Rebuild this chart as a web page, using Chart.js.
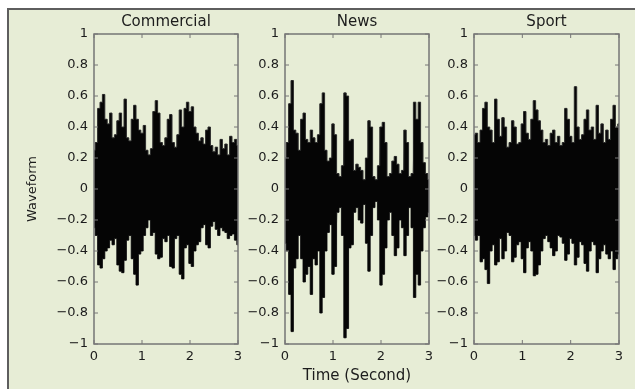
<!DOCTYPE html>
<html>
<head>
<meta charset="utf-8">
<script src="https://cdn.jsdelivr.net/npm/chart.js@4.4.1/dist/chart.umd.min.js"></script>
<style>
  body { margin: 0; background: #fff; width: 635px; height: 389px; overflow: hidden; position: relative; }
  #frame { position: absolute; left: 7px; top: 8px; width: 640px; height: 400px; border: 2px solid #5e5e5e; background: #e7edd6; }
  canvas { position: absolute; left: 0; top: 0; }
</style>
</head>
<body>
<div id="frame"></div>
<canvas id="c0" width="635" height="389"></canvas>
<canvas id="c1" width="635" height="389"></canvas>
<canvas id="c2" width="635" height="389"></canvas>
<script>
// time axis (seconds), one sample every 0.05 s
const time = [
  0, 0.05, 0.1, 0.15, 0.2, 0.25, 0.3, 0.35, 0.4, 0.45,
  0.5, 0.55, 0.6, 0.65, 0.7, 0.75, 0.8, 0.85, 0.9, 0.95,
  1, 1.05, 1.1, 1.15, 1.2, 1.25, 1.3, 1.35, 1.4, 1.45,
  1.5, 1.55, 1.6, 1.65, 1.7, 1.75, 1.8, 1.85, 1.9, 1.95,
  2, 2.05, 2.1, 2.15, 2.2, 2.25, 2.3, 2.35, 2.4, 2.45,
  2.5, 2.55, 2.6, 2.65, 2.7, 2.75, 2.8, 2.85, 2.9, 2.95,
  3
];

// waveform envelopes (peak above / below zero)
const commercialUpper = [
  0.25, 0.30, 0.52, 0.56, 0.61, 0.45, 0.42, 0.49, 0.33, 0.35,
  0.44, 0.49, 0.40, 0.58, 0.33, 0.31, 0.45, 0.54, 0.45, 0.38,
  0.36, 0.41, 0.25, 0.22, 0.26, 0.50, 0.57, 0.49, 0.30, 0.28,
  0.33, 0.45, 0.48, 0.30, 0.27, 0.35, 0.51, 0.40, 0.52, 0.56,
  0.50, 0.53, 0.40, 0.36, 0.31, 0.33, 0.29, 0.38, 0.40, 0.28,
  0.24, 0.27, 0.22, 0.32, 0.26, 0.29, 0.22, 0.34, 0.30, 0.32,
  0.28
];
const commercialLower = [
  -0.25, -0.30, -0.49, -0.51, -0.45, -0.40, -0.38, -0.33, -0.36, -0.32,
  -0.49, -0.53, -0.54, -0.46, -0.33, -0.30, -0.45, -0.55, -0.62, -0.42,
  -0.40, -0.30, -0.25, -0.20, -0.30, -0.28, -0.42, -0.45, -0.44, -0.32,
  -0.34, -0.30, -0.50, -0.51, -0.32, -0.30, -0.55, -0.58, -0.38, -0.36,
  -0.48, -0.50, -0.40, -0.36, -0.34, -0.25, -0.23, -0.36, -0.38, -0.24,
  -0.21, -0.26, -0.30, -0.25, -0.27, -0.28, -0.32, -0.30, -0.29, -0.33,
  -0.36
];
const newsUpper = [
  0.20, 0.30, 0.55, 0.70, 0.38, 0.36, 0.25, 0.45, 0.49, 0.32,
  0.30, 0.38, 0.33, 0.30, 0.35, 0.55, 0.62, 0.25, 0.18, 0.20,
  0.42, 0.35, 0.10, 0.08, 0.15, 0.62, 0.60, 0.31, 0.32, 0.12,
  0.16, 0.14, 0.12, 0.06, 0.20, 0.44, 0.40, 0.08, 0.06, 0.15,
  0.40, 0.43, 0.30, 0.08, 0.10, 0.18, 0.21, 0.16, 0.10, 0.12,
  0.38, 0.30, 0.08, 0.10, 0.56, 0.45, 0.56, 0.30, 0.17, 0.10,
  0.06
];
const newsLower = [
  -0.35, -0.40, -0.68, -0.92, -0.51, -0.45, -0.30, -0.45, -0.60, -0.55,
  -0.50, -0.68, -0.45, -0.49, -0.40, -0.80, -0.70, -0.40, -0.28, -0.23,
  -0.55, -0.50, -0.15, -0.12, -0.30, -0.96, -0.90, -0.38, -0.36, -0.15,
  -0.12, -0.20, -0.22, -0.10, -0.35, -0.53, -0.30, -0.12, -0.08, -0.20,
  -0.62, -0.55, -0.38, -0.20, -0.15, -0.30, -0.43, -0.38, -0.20, -0.25,
  -0.43, -0.30, -0.12, -0.25, -0.70, -0.55, -0.62, -0.40, -0.25, -0.18,
  -0.15
];
const sportUpper = [
  0.35, 0.36, 0.30, 0.38, 0.52, 0.56, 0.40, 0.38, 0.30, 0.58,
  0.45, 0.34, 0.46, 0.40, 0.27, 0.30, 0.44, 0.40, 0.29, 0.30,
  0.42, 0.50, 0.36, 0.32, 0.45, 0.57, 0.51, 0.44, 0.38, 0.30,
  0.32, 0.28, 0.36, 0.38, 0.30, 0.34, 0.28, 0.30, 0.52, 0.45,
  0.34, 0.30, 0.66, 0.40, 0.32, 0.35, 0.45, 0.51, 0.38, 0.40,
  0.32, 0.54, 0.36, 0.42, 0.30, 0.38, 0.32, 0.45, 0.54, 0.40,
  0.42
];
const sportLower = [
  -0.30, -0.33, -0.30, -0.47, -0.45, -0.52, -0.61, -0.40, -0.36, -0.49,
  -0.47, -0.32, -0.45, -0.40, -0.28, -0.30, -0.47, -0.44, -0.36, -0.34,
  -0.45, -0.54, -0.38, -0.34, -0.40, -0.56, -0.55, -0.49, -0.40, -0.32,
  -0.30, -0.34, -0.38, -0.43, -0.40, -0.30, -0.31, -0.35, -0.46, -0.42,
  -0.32, -0.35, -0.49, -0.44, -0.34, -0.36, -0.48, -0.53, -0.40, -0.34,
  -0.36, -0.54, -0.45, -0.40, -0.36, -0.42, -0.45, -0.40, -0.52, -0.45,
  -0.42
];

const panelTitles = ["Commercial", "News", "Sport"];
const yTickLabels = ["\u22121", "\u22120.8", "\u22120.6", "\u22120.4", "\u22120.2", "0", "0.2", "0.4", "0.6", "0.8", "1"];
const xTickLabels = ["0", "1", "2", "3"];

const panels = [
  { upper: commercialUpper, lower: commercialLower },
  { upper: newsUpper, lower: newsLower },
  { upper: sportUpper, lower: sportLower },
];

// layout of the three axes boxes (pixels)
const plotLeft = [94, 285, 474];
const plotRight = [238, 429, 619];
const FONT = "'DejaVu Sans', 'Liberation Sans', Arial, sans-serif";
const TEXT = "#1c1c1c";

// box round the plot + small inward ticks like matlab
const boxPlugin = {
  id: "box",
  afterDraw(chart) {
    const { ctx, chartArea: a, scales } = chart;
    ctx.save();
    ctx.strokeStyle = "#767676";
    ctx.lineWidth = 1.5;
    ctx.strokeRect(a.left, a.top, a.right - a.left, a.bottom - a.top);
    ctx.lineWidth = 1;
    ctx.beginPath();
    scales.y.ticks.forEach((t) => {
      const py = scales.y.getPixelForValue(t.value);
      ctx.moveTo(a.left, py); ctx.lineTo(a.left + 4, py);
      ctx.moveTo(a.right, py); ctx.lineTo(a.right - 4, py);
    });
    scales.x.ticks.forEach((t) => {
      const px = scales.x.getPixelForValue(t.value);
      ctx.moveTo(px, a.bottom); ctx.lineTo(px, a.bottom - 4);
      ctx.moveTo(px, a.top); ctx.lineTo(px, a.top + 4);
    });
    ctx.stroke();
    ctx.restore();
  },
};

panels.forEach((p, idx) => {
  const up = time.map((t, i) => ({ x: t, y: p.upper[i] }));
  const lo = time.map((t, i) => ({ x: t, y: p.lower[i] }));
  // zigzag between the envelopes for the ragged waveform texture
  const zig = [];
  time.forEach((t, i) => {
    zig.push({ x: t, y: p.upper[i] });
    zig.push({ x: t, y: p.lower[i] });
  });

  const yWidth = idx === 0 ? 69 : 44;

  new Chart(document.getElementById("c" + idx), {
    type: "line",
    data: {
      datasets: [
        {
          data: up,
          borderColor: "#2b2b2b",
          backgroundColor: "#050505",
          borderWidth: 1,
          pointRadius: 0,
          stepped: "middle",
          fill: "+1",
        },
        {
          data: lo,
          borderColor: "#2b2b2b",
          borderWidth: 1,
          pointRadius: 0,
          stepped: "middle",
          fill: false,
        },
        {
          data: zig,
          borderColor: "#3a3a3a",
          borderWidth: 1,
          pointRadius: 0,
          tension: 0,
          fill: false,
        },
      ],
    },
    options: {
      responsive: false,
      animation: false,
      devicePixelRatio: 1,
      layout: {
        padding: { left: plotLeft[idx] - yWidth, right: 635 - plotRight[idx], top: 13.5, bottom: 4 },
      },
      scales: {
        x: {
          type: "linear",
          min: 0,
          max: 3,
          grid: { display: false, drawTicks: false },
          border: { display: false },
          ticks: {
            stepSize: 1,
            padding: 5,
            maxRotation: 0,
            autoSkip: false,
            color: TEXT,
            font: { family: FONT, size: 13 },
            callback: (v, i) => xTickLabels[i],
          },
          title: {
            display: idx === 1,
            text: "Time (Second)",
            color: TEXT,
            padding: 0,
            font: { family: FONT, size: 15 },
          },
          afterFit: (s) => { s.height = 41; },
        },
        y: {
          type: "linear",
          min: -1,
          max: 1,
          grid: { display: false, drawTicks: false },
          border: { display: false },
          ticks: {
            stepSize: 0.2,
            padding: 6,
            color: TEXT,
            font: { family: FONT, size: 13 },
            callback: (v, i) => yTickLabels[i],
          },
          title: {
            display: idx === 0,
            text: "Waveform",
            color: TEXT,
            padding: 0,
            font: { family: FONT, size: 13 },
          },
          afterFit: (s) => { s.width = yWidth; },
        },
      },
      plugins: {
        legend: { display: false },
        tooltip: { enabled: false },
        title: {
          display: true,
          text: panelTitles[idx],
          fullSize: false,
          color: TEXT,
          padding: { top: 0, bottom: 2.5 },
          font: { family: FONT, size: 15, weight: "normal" },
        },
      },
    },
    plugins: [boxPlugin],
  });
});
</script>
</body>
</html>
